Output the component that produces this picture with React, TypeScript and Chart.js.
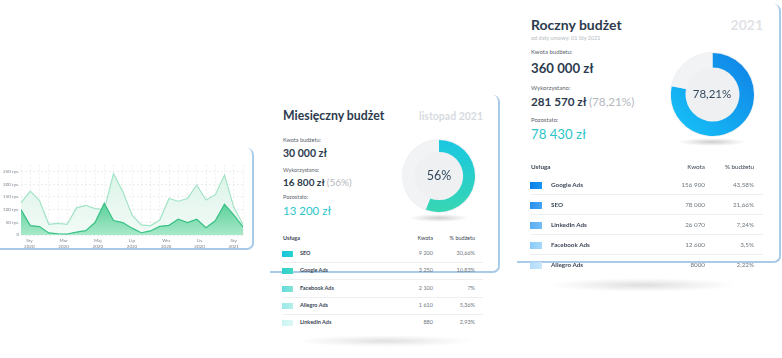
import React, { useEffect, useRef } from "react";
import { Chart, registerables } from "chart.js";

Chart.register(...registerables);

// ---------- DATA ----------
const xTickLabels = [["Sty", "2020"], ["Mar", "2020"], ["Maj", "2020"], ["Lip", "2020"], ["Wrz", "2020"], ["Lis", "2020"], ["Sty", "2021"]];
const xTickPositions = [0.9, 4.6, 8.3, 12.0, 15.7, 19.3, 23.0];
const upperSeries = [127, 173, 136, 42, 46, 42, 107, 117, 104, 100, 242, 171, 79, 40, 36, 59, 144, 133, 144, 197, 138, 158, 236, 110, 41];
const lowerSeries = [100, 37, 33, 8, 5, 4, 11, 17, 49, 125, 57, 49, 27, 9, 16, 34, 38, 62, 49, 62, 29, 56, 121, 79, 32];
const yMax = 277;
const yStep = 50;

const monthlyUsed = [56, 44];
const yearlyUsed = [78.21, 21.79];

const monthlyServices = ["SEO", "Google Ads", "Facebook Ads", "Allegro Ads", "LinkedIn Ads"];
const monthlyAmounts = ["9 200", "3 250", "2 100", "1 610", "880"];
const monthlyShares = ["30,66%", "10,83%", "7%", "5,36%", "2,93%"];

const yearlyServices = ["Google Ads", "SEO", "LinkedIn Ads", "Facebook Ads", "Allegro Ads"];
const yearlyAmounts = ["156 900", "78 000", "26 070", "12 600", "8000"];
const yearlyShares = ["43,58%", "21,66%", "7,24%", "3,5%", "2,22%"];

// ---------- STYLE ----------
const FONT = "Lato, 'Noto Sans', sans-serif";
const DARK = "#2d3b4e";
const TEAL = "#2cc5c9";
const CARD_BORDER = "#a9cbe9";

const monthlySwatches = [
  ["#17c4df", "#2ad2cf"],
  ["#2fd0d0", "#43d8c0"],
  ["#62dcdc", "#86e4d6"],
  ["#9be9ea", "#b4efea"],
  ["#cbf4f4", "#dcf8f5"],
];
const yearlySwatches = [
  ["#0c80e6", "#1a94ef"],
  ["#2a8fec", "#45a6f2"],
  ["#58aef2", "#74bff6"],
  ["#8bcaf8", "#a6d8fa"],
  ["#b2dbf9", "#c8e6fb"],
];

function T(props: any) {
  const { x, y, size, weight = 400, color = DARK, align = "left", children } = props;
  const style: any = {
    position: "absolute",
    top: y - 0.887 * size,
    fontSize: size,
    lineHeight: size + "px",
    fontWeight: weight,
    color,
    whiteSpace: "nowrap",
    fontFamily: FONT,
  };
  if (align === "right") style.right = 782 - x;
  else if (align === "center") {
    style.left = x;
    style.transform = "translateX(-50%)";
  } else style.left = x;
  return <div style={style}>{children}</div>;
}

function Shadow({ cx, cy, w, h, a = 0.16 }: any) {
  return (
    <div
      style={{
        position: "absolute",
        left: cx - w / 2,
        top: cy - h / 2,
        width: w,
        height: h,
        background: `radial-gradient(ellipse at center, rgba(0,0,0,${a}) 0%, rgba(0,0,0,${a * 0.4}) 40%, rgba(0,0,0,0) 70%)`,
      }}
    />
  );
}

function Card({ left, top, width, height }: any) {
  return (
    <div
      style={{
        position: "absolute",
        left,
        top,
        width,
        height,
        boxSizing: "border-box",
        borderRight: `2px solid ${CARD_BORDER}`,
        borderBottom: `2px solid ${CARD_BORDER}`,
        borderRadius: "0 7px 7px 0",
        background: "#fff",
      }}
    />
  );
}

function AreaChart() {
  const ref = useRef<HTMLCanvasElement>(null);
  useEffect(() => {
    const canvas = ref.current!;
    const lowerFill = (ctx: any) => {
      const ca = ctx.chart.chartArea;
      if (!ca) return "#5fd19f";
      const g = ctx.chart.ctx.createLinearGradient(0, ca.top, 0, ca.bottom);
      g.addColorStop(0, "#2fc283");
      g.addColorStop(0.4, "#40c78c");
      g.addColorStop(1, "#a8e9c9");
      return g;
    };
    const upperFill = (ctx: any) => {
      const ca = ctx.chart.chartArea;
      if (!ca) return "#e6f7ee";
      const g = ctx.chart.ctx.createLinearGradient(0, ca.top, 0, ca.bottom);
      g.addColorStop(0, "#d8f3e6");
      g.addColorStop(1, "#f3fbf7");
      return g;
    };
    const chart = new Chart(canvas, {
      type: "line",
      data: {
        datasets: [
          {
            data: lowerSeries.map((v, i) => ({ x: i, y: v })),
            borderColor: "#36c084",
            borderWidth: 1.2,
            backgroundColor: lowerFill,
            fill: "origin",
            pointRadius: 0,
            tension: 0,
          },
          {
            data: upperSeries.map((v, i) => ({ x: i, y: v })),
            borderColor: "#a2e4c6",
            borderWidth: 1.2,
            backgroundColor: upperFill,
            fill: "origin",
            pointRadius: 0,
            tension: 0,
          },
        ],
      },
      options: {
        animation: false,
        responsive: false,
        devicePixelRatio: 1,
        events: [],
        layout: { padding: { top: 4, right: 9, left: 0, bottom: 0 } },
        plugins: { legend: { display: false }, tooltip: { enabled: false } },
        scales: {
          x: {
            type: "linear",
            min: 0,
            max: upperSeries.length - 1,
            position: "bottom",
            ticks: { display: false, stepSize: 1 },
            grid: { color: "#e7e9eb", lineWidth: 0.7, drawTicks: false },
            border: { display: false, dash: [2, 2] },
            afterFit: (s: any) => {
              s.height = 0;
            },
          },
          x2: {
            type: "linear",
            min: 0,
            max: upperSeries.length - 1,
            position: "bottom",
            grid: { display: false, drawTicks: false },
            border: { display: false },
            afterBuildTicks: (s: any) => {
              s.ticks = xTickPositions.map((v) => ({ value: v }));
            },
            ticks: {
              callback: (_v: any, i: number) => xTickLabels[i],
              font: { size: 4.5, family: FONT },
              color: "#7b838c",
              padding: 3,
              maxRotation: 0,
              autoSkip: false,
            },
            afterFit: (s: any) => {
              s.height = 15;
            },
          },
          y: {
            min: 0,
            max: yMax,
            ticks: {
              stepSize: yStep,
              font: { size: 4.5, family: FONT },
              color: "#7b838c",
              padding: 2,
              callback: (v: any) => (v === 0 ? "0" : v % yStep === 0 ? `${v} tys.` : ""),
            },
            grid: {
              drawTicks: false,
              lineWidth: 0.7,
              color: (c: any) => (c.tick && c.tick.value % yStep === 0 ? "#e3e6e9" : "rgba(0,0,0,0)"),
            },
            border: { display: false, dash: [2, 2] },
            afterFit: (s: any) => {
              s.width = 21;
            },
          },
        },
      } as any,
    });
    return () => chart.destroy();
  }, []);
  return <canvas ref={ref} width={252} height={90} style={{ position: "absolute", left: 0, top: 160 }} />;
}

function Donut({ values, size, cutout, left, top, stops, dir }: any) {
  const ref = useRef<HTMLCanvasElement>(null);
  useEffect(() => {
    const canvas = ref.current!;
    const bg = (ctx: any) => {
      if (ctx.dataIndex === 1) return "#f2f3f4";
      const ca = ctx.chart.chartArea;
      if (!ca) return stops[0];
      const g =
        dir === "v"
          ? ctx.chart.ctx.createLinearGradient(0, ca.top, 0, ca.bottom)
          : ctx.chart.ctx.createLinearGradient(ca.right, ca.top, ca.left, ca.bottom);
      g.addColorStop(0, stops[0]);
      g.addColorStop(1, stops[1]);
      return g;
    };
    const chart = new Chart(canvas, {
      type: "doughnut",
      data: { datasets: [{ data: values, backgroundColor: bg, borderWidth: 0 }] },
      options: {
        animation: false,
        responsive: false,
        devicePixelRatio: 1,
        events: [],
        cutout,
        plugins: { legend: { display: false }, tooltip: { enabled: false } },
      } as any,
    });
    return () => chart.destroy();
  }, []);
  return (
    <>
      <div
        style={{
          position: "absolute",
          left: left - 1,
          top: top - 1,
          width: size + 2,
          height: size + 2,
          borderRadius: "50%",
          background: "#eef0f2",
        }}
      />
      <canvas ref={ref} width={size} height={size} style={{ position: "absolute", left, top }} />
    </>
  );
}

function Table({ services, amounts, shares, swatches, x, right1, right2, sepRight, headerY, rowStart, rowGap, nameX, sw, sh, size }: any) {
  return (
    <>
      <T x={x} y={headerY} size={size} weight={700} color="#3b4654">Usługa</T>
      <T x={right1} y={headerY} size={size} color="#3b4654" align="right">Kwota</T>
      <T x={right2} y={headerY} size={size} color="#3b4654" align="right">% budżetu</T>
      {services.map((s: string, i: number) => {
        const cy = rowStart + i * rowGap;
        return (
          <React.Fragment key={s}>
            <div
              style={{
                position: "absolute",
                left: x - 1,
                top: cy - sh / 2,
                width: sw,
                height: sh,
                background: `linear-gradient(90deg, ${swatches[i][0]}, ${swatches[i][1]})`,
              }}
            />
            <T x={nameX} y={cy + size * 0.36} size={size} weight={700} color="#3a4656">{s}</T>
            <T x={right1} y={cy + size * 0.36} size={size} color="#6f777f" align="right">{amounts[i]}</T>
            <T x={right2} y={cy + size * 0.36} size={size} color="#6f777f" align="right">{shares[i]}</T>
            {i < services.length - 1 && (
              <div
                style={{
                  position: "absolute",
                  left: x,
                  top: cy + rowGap * 0.47,
                  width: sepRight - x,
                  height: 1,
                  background: "#eceef0",
                }}
              />
            )}
          </React.Fragment>
        );
      })}
    </>
  );
}

export default function App() {
  useEffect(() => {
    document.body.style.margin = "0";
  }, []);
  return (
    <div
      style={{
        position: "fixed",
        left: 0,
        top: 0,
        width: 782,
        height: 358,
        overflow: "hidden",
        background: "#fff",
        fontFamily: FONT,
      }}
    >
      {/* Area chart card */}
      <Card left={-10} top={148} width={264} height={102} />
      <AreaChart />

      {/* Monthly card */}
      <Card left={270} top={95} width={230} height={178} />
      <T x={283} y={121} size={12.3} weight={700}>Miesięczny budżet</T>
      <T x={483} y={120.5} size={10.5} weight={700} color="#d7dbe0" align="right">listopad 2021</T>
      <T x={283} y={142.7} size={5.5} color="#5b636c">Kwota budżetu:</T>
      <T x={283} y={157.7} size={10.5} weight={700}>30 000 zł</T>
      <T x={283} y={172.7} size={5.5} color="#5b636c">Wykorzystano:</T>
      <T x={283} y={185.7} size={10} weight={700}>
        16 800 zł <span style={{ fontWeight: 400, color: "#b3b8bd" }}>(56%)</span>
      </T>
      <T x={283} y={200} size={5.5} color="#5b636c">Pozostało:</T>
      <T x={283} y={215.7} size={11.5} color={TEAL}>13 200 zł</T>
      <Shadow cx={439} cy={218} w={60} h={8} a={0.2} />
      <Donut values={monthlyUsed} size={72} cutout="67%" left={403} top={140} stops={["#19c7e2", "#37d6b3"]} dir="v" />
      <T x={439} y={180.7} size={12.5} color="#34495e" align="center">56%</T>

      <Table
        services={monthlyServices}
        amounts={monthlyAmounts}
        shares={monthlyShares}
        swatches={monthlySwatches}
        x={283}
        right1={433}
        right2={475}
        sepRight={483}
        headerY={241}
        rowStart={254}
        rowGap={17.3}
        nameX={300}
        sw={11}
        sh={6}
        size={5.5}
      />
      <Shadow cx={385} cy={341} w={180} h={12} a={0.12} />

      {/* Yearly card */}
      <Card left={517} top={4} width={264} height={259} />
      <T x={531} y={30.7} size={14} weight={700}>Roczny budżet</T>
      <T x={763} y={30} size={14} weight={700} color="#dfe2e6" align="right">2021</T>
      <T x={531} y={40.7} size={5.5} color="#b6bbc0">od daty umowy: 01 Sty 2021</T>
      <T x={531} y={54} size={6} color="#5b636c">Kwota budżetu:</T>
      <T x={531} y={74} size={13.2} weight={700}>360 000 zł</T>
      <T x={531} y={90.7} size={6} color="#5b636c">Wykorzystano:</T>
      <T x={531} y={106} size={11.7} weight={700}>
        281 570 zł <span style={{ fontWeight: 400, color: "#b3b8bd" }}>(78,21%)</span>
      </T>
      <T x={531} y={122} size={6} color="#5b636c">Pozostało:</T>
      <T x={531} y={140} size={13.2} color={TEAL}>78 430 zł</T>
      <Shadow cx={712} cy={142} w={70} h={8} a={0.2} />
      <Donut values={yearlyUsed} size={83} cutout="65%" left={671} top={53} stops={["#0f7fe6", "#17c6f8"]} dir="d" />
      <T x={712} y={98.3} size={11.5} color="#34495e" align="center">78,21%</T>

      <Table
        services={yearlyServices}
        amounts={yearlyAmounts}
        shares={yearlyShares}
        swatches={yearlySwatches}
        x={531}
        right1={705}
        right2={754}
        sepRight={763}
        headerY={170}
        rowStart={185}
        rowGap={20}
        nameX={551}
        sw={12}
        sh={7}
        size={6.3}
      />
      <Shadow cx={643} cy={285} w={190} h={14} a={0.13} />
    </div>
  );
}
